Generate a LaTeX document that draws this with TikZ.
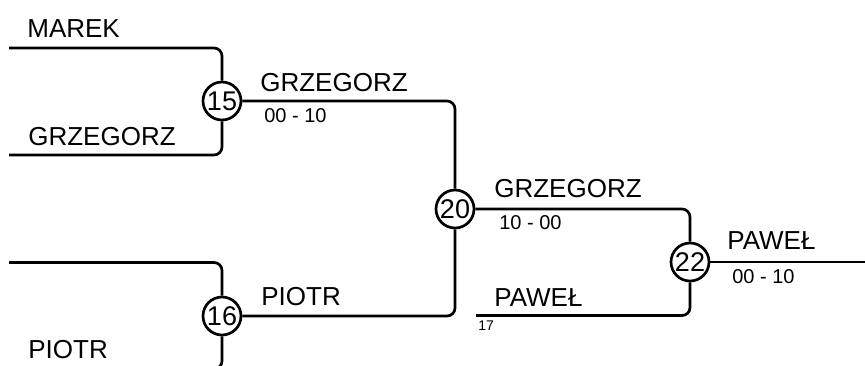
\documentclass[tikz,border=0pt]{standalone}
\usepackage{fontspec}
\setmainfont{Liberation Sans}
\begin{document}
\begin{tikzpicture}[x=0.5pt,y=-0.5pt,line width=1.35pt,
	mecz/.style={draw,circle,minimum size=19pt,inner sep=0pt,font=\fontsize{13.5}{14}\selectfont},
	gracz/.style={anchor=base west,inner sep=0pt,font=\fontsize{13}{14}\selectfont},
	wynik/.style={anchor=base west,inner sep=0pt,font=\fontsize{10}{11}\selectfont},
	sciezka/.style={rounded corners=4pt}]
				\useasboundingbox (0,0) rectangle (865,365);
				\node[mecz] (m15) at (222,101) {15};
				\node[mecz] (m16) at (222,316) {16};
				\node[mecz] (m20) at (455,209) {20};
				\node[mecz] (m22) at (690,262) {22};
				\coordinate (w1) at (9,48);
				\coordinate (w2) at (9,155);
				\coordinate (w3) at (9,262.5);
				\coordinate (w4) at (9,369);
				\coordinate (w17) at (476,315.5);
				\coordinate (final) at (866,262);
				\draw[sciezka] (w1) -| (m15);
				\draw[sciezka] (w2) -| (m15);
				\draw[sciezka] (w3) -| (m16);
				\draw[sciezka] (w4) -| (m16);
				\draw[sciezka] (m15) -| (m20);
				\draw[sciezka] (m16) -| (m20);
				\draw[sciezka] (m20) -| (m22);
				\draw[sciezka] (w17) -| (m22);
				\draw (m22) -- (final);
				\node[gracz] (marek) at (26,37) {MAREK};
				\node[gracz] (grzegorz1) at (27,145) {GRZEGORZ};
				\node[gracz] (piotr1) at (27,358) {PIOTR};
				\node[gracz] (grzegorz2) at (259,91.5) {GRZEGORZ};
				\node[wynik] (wynik15) at (263,122) {00 - 10};
				\node[gracz] (piotr2) at (260,305.5) {PIOTR};
				\node[gracz] (grzegorz3) at (493,197) {GRZEGORZ};
				\node[wynik] (wynik20) at (498,229) {10 - 00};
				\node[gracz] (pawel1) at (493,306.5) {PAWEŁ};
				\node[anchor=base west,inner sep=0pt,font=\fontsize{7}{8}\selectfont] (n17) at (477,330) {17};
				\node[gracz] (pawel2) at (726,249) {PAWEŁ};
				\node[wynik] (wynik22) at (731,283) {00 - 10};
\end{tikzpicture}
\end{document}
